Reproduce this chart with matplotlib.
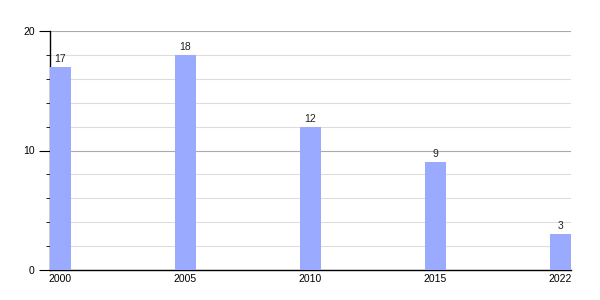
import matplotlib
matplotlib.use("Agg")
import matplotlib.pyplot as plt
from matplotlib.ticker import MultipleLocator

years = ["2000", "2005", "2010", "2015", "2022"]
values = [17, 18, 12, 9, 3]

plt.rcParams['font.family'] = ['Liberation Sans', 'DejaVu Sans']

fig = plt.figure(figsize=(6, 3), dpi=100)
ax = fig.add_axes([50/600, 30/300, 521/600, 239/300])

x = list(range(len(years)))
bw = 0.166
bars = ax.bar(x, values, width=bw, color="#9aabff", zorder=3)
for xi, v in zip(x, values):
    ax.text(xi, v + 0.25, str(v), ha="center", va="bottom", fontsize=7.5, color="#222222", zorder=4)

ax.set_xlim(-bw/2, len(years) - 1 + bw/2)
ax.set_ylim(0, 20)
ax.set_xticks(x)
ax.set_xticklabels(years, fontsize=7.5)
ax.tick_params(axis="x", length=0, pad=3)

ax.yaxis.set_major_locator(MultipleLocator(10))
ax.yaxis.set_minor_locator(MultipleLocator(2))
ax.tick_params(axis="y", which="major", length=8, width=0.8, labelsize=7.5, pad=3)
ax.tick_params(axis="y", which="minor", length=3, width=0.6)
ax.grid(axis="y", which="major", color="#aaaaaa", linewidth=0.8, zorder=0)
ax.grid(axis="y", which="minor", color="#dddddd", linewidth=0.8, zorder=0)

for s in ["top", "right"]:
    ax.spines[s].set_visible(False)
ax.spines["left"].set_linewidth(1)
ax.spines["bottom"].set_linewidth(1)

fig.savefig("out.png", dpi=100)
